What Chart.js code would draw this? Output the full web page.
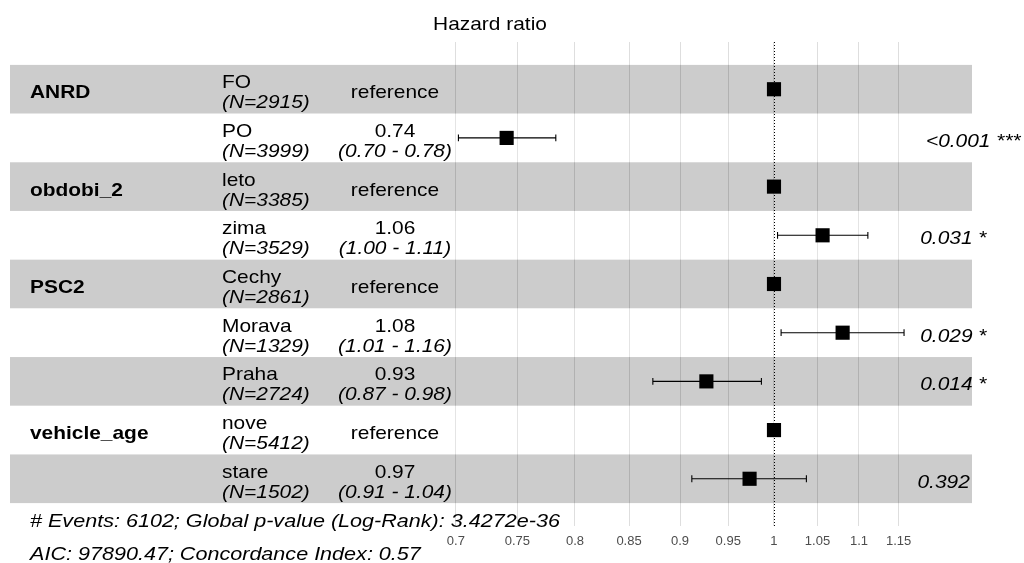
<!DOCTYPE html>
<html>
<head>
<meta charset="utf-8">
<script src="https://cdn.jsdelivr.net/npm/chart.js@4.4.1/dist/chart.umd.min.js"></script>
<style>
  html, body { margin: 0; padding: 0; background: #ffffff; }
  #wrap { width: 1024px; height: 563px; position: relative; }
</style>
</head>
<body>
<div id="wrap"><canvas id="c" width="1024" height="563"></canvas></div>
<script>
// ---- data ----
const variables = ['ANRD', '', 'obdobi_2', '', 'PSC2', '', '', 'vehicle_age', ''];
const levels = ['FO', 'PO', 'leto', 'zima', 'Cechy', 'Morava', 'Praha', 'nove', 'stare'];
const counts = [2915, 3999, 3385, 3529, 2861, 1329, 2724, 5412, 1502];
const hazardRatios = [1, 0.741, 1, 1.056, 1, 1.080, 0.927, 1, 0.973];
const ciLow = [null, 0.702, null, 1.004, null, 1.008, 0.873, null, 0.912];
const ciHigh = [null, 0.783, null, 1.111, null, 1.157, 0.986, null, 1.037];
const estimateLabels = ['reference', '0.74', 'reference', '1.06', 'reference', '1.08', '0.93', 'reference', '0.97'];
const ciLabels = ['', '(0.70 - 0.78)', '', '(1.00 - 1.11)', '', '(1.01 - 1.16)', '(0.87 - 0.98)', '', '(0.91 - 1.04)'];
const pLabels = ['', '<0.001 ***', '', '0.031 *', '', '0.029 *', '0.014 *', '', '0.392'];
const tickValues = [0.7, 0.75, 0.8, 0.85, 0.9, 0.95, 1, 1.05, 1.1, 1.15];
const tickLabels = ['0.7', '0.75', '0.8', '0.85', '0.9', '0.95', '1', '1.05', '1.1', '1.15'];
const titleText = 'Hazard ratio';
const footerLines = [
  '# Events: 6102; Global p-value (Log-Rank): 3.4272e-36',
  'AIC: 97890.47; Concordance Index: 0.57'
];

const FAMILY = '"Liberation Sans", Arial, sans-serif';
const SX = 1.1;
const SX_FOOT = 1.135;

function drawText(ctx, s, x, y, font, align, sx) {
  ctx.save();
  ctx.font = font;
  const w = ctx.measureText(s).width * sx;
  let left = x;
  if (align === 'center') left = x - w / 2;
  else if (align === 'right') left = x - w;
  ctx.translate(left, y);
  ctx.scale(sx, 1);
  ctx.textAlign = 'left';
  ctx.textBaseline = 'alphabetic';
  ctx.fillStyle = '#000000';
  ctx.fillText(s, 0, 0);
  ctx.restore();
  return w;
}

const forestPlugin = {
  id: 'forest',
  beforeDatasetsDraw(chart) {
    const { ctx, chartArea, scales } = chart;
    const ys = scales.y, xs = scales.x;
    // alternating bands
    for (let i = 0; i < levels.length; i++) {
      const top = ys.getPixelForValue(i + 0.5);
      const bot = ys.getPixelForValue(i + 1.5);
      ctx.save();
      ctx.fillStyle = (i % 2 === 0) ? 'rgba(0,0,0,0.2)' : 'rgba(255,255,255,0.2)';
      ctx.fillRect(chartArea.left, top, chartArea.right - chartArea.left, bot - top);
      ctx.restore();
    }
    // error bars
    ctx.save();
    ctx.strokeStyle = '#000000';
    ctx.lineWidth = 1.1;
    for (let i = 0; i < levels.length; i++) {
      if (ciLow[i] === null) continue;
      const y = ys.getPixelForValue(i + 1);
      const x0 = xs.getPixelForValue(ciLow[i]);
      const x1 = xs.getPixelForValue(ciHigh[i]);
      const h = Math.abs(ys.getPixelForValue(i + 1.07) - y);
      ctx.beginPath();
      ctx.moveTo(x0, y); ctx.lineTo(x1, y);
      ctx.moveTo(x0, y - h); ctx.lineTo(x0, y + h);
      ctx.moveTo(x1, y - h); ctx.lineTo(x1, y + h);
      ctx.stroke();
    }
    ctx.restore();
    // reference dotted line at HR = 1
    const xr = Math.round(xs.getPixelForValue(1)) + 0.5;
    ctx.save();
    ctx.strokeStyle = '#000000';
    ctx.lineWidth = 1;
    ctx.setLineDash([1, 2]);
    ctx.beginPath();
    ctx.moveTo(xr, chartArea.top);
    ctx.lineTo(xr, chartArea.bottom);
    ctx.stroke();
    ctx.restore();
  },
  afterDraw(chart) {
    const { ctx, scales } = chart;
    const ys = scales.y;
    const fNorm = '19px ' + FAMILY;
    const fItal = 'italic 19px ' + FAMILY;
    const fBold = 'bold 19px ' + FAMILY;
    drawText(ctx, titleText, 490, 30, fNorm, 'center', SX);
    for (let i = 0; i < levels.length; i++) {
      const c = ys.getPixelForValue(i + 1);
      if (variables[i]) drawText(ctx, variables[i], 30, c + 9, fBold, 'left', SX);
      drawText(ctx, levels[i], 222, c - 1, fNorm, 'left', SX);
      drawText(ctx, '(N=' + counts[i] + ')', 222, c + 19, fItal, 'left', SX);
      if (estimateLabels[i] === 'reference') {
        drawText(ctx, estimateLabels[i], 395, c + 9, fNorm, 'center', SX);
      } else {
        drawText(ctx, estimateLabels[i], 395, c - 1, fNorm, 'center', SX);
        drawText(ctx, ciLabels[i], 395, c + 19, fItal, 'center', SX);
      }
      if (pLabels[i]) {
        ctx.save(); ctx.font = fItal;
        const w = ctx.measureText(pLabels[i]).width * SX;
        ctx.restore();
        drawText(ctx, pLabels[i], 907 + 0.2 * w, c + 9, fItal, 'left', SX);
      }
    }
    drawText(ctx, footerLines[0], 30, 527, fItal, 'left', SX_FOOT);
    drawText(ctx, footerLines[1], 30, 560, fItal, 'left', SX_FOOT);
  }
};

const pointData = hazardRatios.map((v, i) => ({ x: v, y: i + 1 }));

new Chart(document.getElementById('c'), {
  type: 'scatter',
  data: {
    datasets: [{
      data: pointData,
      pointStyle: 'rect',
      pointRadius: 10,
      pointHoverRadius: 10,
      backgroundColor: '#000000',
      borderColor: '#000000',
      borderWidth: 0
    }]
  },
  options: {
    responsive: false,
    animation: false,
    events: [],
    layout: { padding: { left: 10, right: 52, top: 42, bottom: 0 } },
    plugins: { legend: { display: false }, tooltip: { enabled: false }, title: { display: false } },
    scales: {
      x: {
        type: 'logarithmic',
        min: 0.4246,
        max: 1.2486,
        afterBuildTicks(scale) { scale.ticks = tickValues.map(v => ({ value: v })); },
        afterFit(scale) { scale.height = 37; },
        ticks: {
          autoSkip: false,
          maxRotation: 0,
          padding: 8,
          color: '#4D4D4D',
          font: { family: FAMILY, size: 13 },
          callback(value) { const k = tickValues.indexOf(value); return k >= 0 ? tickLabels[k] : ''; }
        },
        grid: { color: '#DEDEDE', lineWidth: 1, drawTicks: false },
        border: { display: false }
      },
      y: {
        type: 'linear',
        reverse: true,
        min: 0.03,
        max: 9.97,
        display: false
      }
    }
  },
  plugins: [forestPlugin]
});
</script>
</body>
</html>
